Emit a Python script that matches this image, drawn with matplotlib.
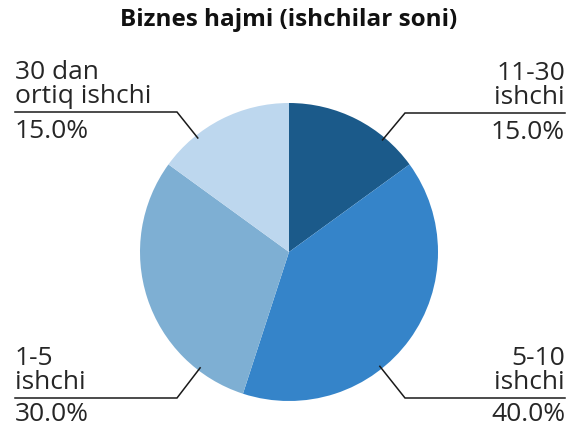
import numpy as np
import matplotlib
matplotlib.use('Agg')
from matplotlib import pyplot as plt

title = 'Biznes hajmi (ishchilar soni)'
labels = ['11-30\nishchi', '5-10\nishchi', '1-5\nishchi', '30 dan\nortiq ishchi']
shares = [15.0, 40.0, 30.0, 15.0]
colors = ['#1b5a8a', '#3584c9', '#7eafd3', '#bdd7ee']

plt.rcParams['font.family'] = ['Open Sans', 'DejaVu Sans']

W, H = 578, 428
fig = plt.figure(figsize=(W / 100, H / 100), dpi=100)
ax = fig.add_axes([0, 0, 1, 1])

cx, cy, r = 289, H - 252, 149
wedges, _ = ax.pie(shares, colors=colors, startangle=90, counterclock=False,
                   center=(cx, cy), radius=r, frame=True,
                   wedgeprops=dict(linewidth=0))
ax.set_xlim(0, W)
ax.set_ylim(0, H)
ax.set_aspect('equal')
ax.axis('off')

# label layout: (text x, line y, elbow x, align, gap to percent baseline)
layout = [(565, H - 113, 405, 'right', 26),
          (565, H - 398, 405, 'right', 23),
          (15, H - 398, 177, 'left', 23),
          (15, H - 112, 177, 'left', 26)]

for lab, val, (tx, ly, ex, ha, gap) in zip(labels, shares, layout):
    dx, dy = ex - cx, ly - cy
    d = np.hypot(dx, dy)
    axx, ayy = cx + r * 0.98 * dx / d, cy + r * 0.98 * dy / d
    ax.plot([tx, ex, axx], [ly, ly, ayy], color='#1a1a1a', lw=1.1,
            solid_joinstyle='miter')
    ax.text(tx, ly + 3, lab, ha=ha, va='bottom', fontsize=19,
            color='#262626', linespacing=0.95)
    ax.text(tx, ly - gap, f'{val:.1f}%', ha=ha, va='baseline', fontsize=19,
            color='#262626')

fig.text(289 / W, 1 - 20 / H, title, ha='center', va='center',
         fontsize=17.5, fontweight='bold', color='#111111')

fig.savefig('out.png', dpi=100)
